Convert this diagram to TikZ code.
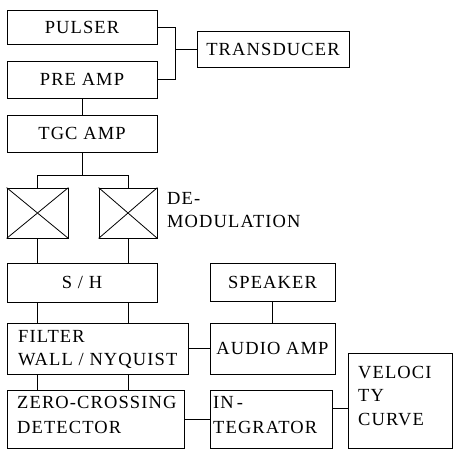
\documentclass[tikz,border=0pt]{standalone}
\usepackage{fontspec}
\setmainfont{Liberation Serif}[LetterSpace=6]
\usetikzlibrary{calc}
\tikzset{
  blk/.style={draw, line width=0.8pt, inner sep=0pt, font=\fontsize{18.5}{23}\selectfont},
  lbl/.style={inner sep=0pt, anchor=north west, align=left, font=\fontsize{18.5}{23}\selectfont},
  wire/.style={line width=0.8pt},
}
\begin{document}
\begin{tikzpicture}[x=1pt,y=-1pt]
\useasboundingbox (0,0) rectangle (454,450);
% transmit / receive chain
\node[blk, minimum width=150pt, minimum height=34pt] (pulser) at (82,27) {PULSER};
\node[blk, minimum width=150pt, minimum height=37pt] (preamp) at (82,79.5) {PRE AMP};
\node[blk, minimum width=152pt, minimum height=36pt] (trans) at (273,49) {TRANSDUCER};
\node[blk, minimum width=150pt, minimum height=37pt] (tgc) at (82,133.5) {TGC AMP};
% demodulators
\node[draw, line width=0.8pt, minimum width=61pt, minimum height=50pt] (xl) at (37.5,213) {};
\node[draw, line width=0.8pt, minimum width=58pt, minimum height=50pt] (xr) at (128,213) {};
\node[lbl] (demod) at (167,192) {DE-\\MODULATION};
\node[blk, minimum width=150pt, minimum height=39pt] (sh) at (82,282.5) {S / H};
\node[blk, minimum width=125pt, minimum height=38pt] (speaker) at (272.5,282) {SPEAKER};
\node[blk, minimum width=181pt, minimum height=51pt] (filter) at (97.5,348.5) {};
\node[lbl] (filtertxt) at (18,330) {FILTER\\WALL / NYQUIST};
\node[blk, minimum width=125pt, minimum height=51pt] (audio) at (272.5,348.5) {AUDIO AMP};
\node[blk, minimum width=177pt, minimum height=58pt] (zero) at (95.5,419) {};
\node[lbl] (zerotxt) at (17,396) {ZERO-CROSSING\\[2pt]DETECTOR};
\node[blk, minimum width=122pt, minimum height=58pt] (integ) at (271,419) {};
\node[lbl] (integtxt) at (213,396) {IN\,-\\[2pt]TEGRATOR};
\node[blk, minimum width=104pt, minimum height=95pt] (vel) at (400,400.5) {};
\node[lbl] (veltxt) at (358,366) {VELOCI\\TY\\[1pt]CURVE};
% crossed boxes
\draw[wire] (xl.north west) -- (xl.south east) (xl.south west) -- (xl.north east);
\draw[wire] (xr.north west) -- (xr.south east) (xr.south west) -- (xr.north east);
% connections
\draw[wire] (pulser.east) -- ++(18,0) coordinate (brk) |- (preamp.east);
\draw[wire] (trans.west) -- (trans.west -| brk);
\draw[wire] (preamp.south) -- (tgc.north);
\draw[wire] (tgc.south) -- ++(0,23) coordinate (split);
\draw[wire] (xl.north) -- (xl.north |- split) -- (xr.north |- split) -- (xr.north);
\draw[wire] (xl.south) -- (xl.south |- sh.north);
\draw[wire] (xr.south) -- (xr.south |- sh.north);
\draw[wire] (sh.south -| xl) -- (filter.north -| xl);
\draw[wire] (sh.south -| xr) -- (filter.north -| xr);
\draw[wire] (filter.south -| xl) -- (zero.north -| xl);
\draw[wire] (filter.south -| xr) -- (zero.north -| xr);
\draw[wire] (filter.east) -- (audio.west);
\draw[wire] (speaker.south) -- (audio.north);
\draw[wire] (zero.east) -- (integ.west);
\draw[wire] ($(integ.east)+(0,-11)$) coordinate (vin) -- (vin -| vel.west);
\end{tikzpicture}
\end{document}
